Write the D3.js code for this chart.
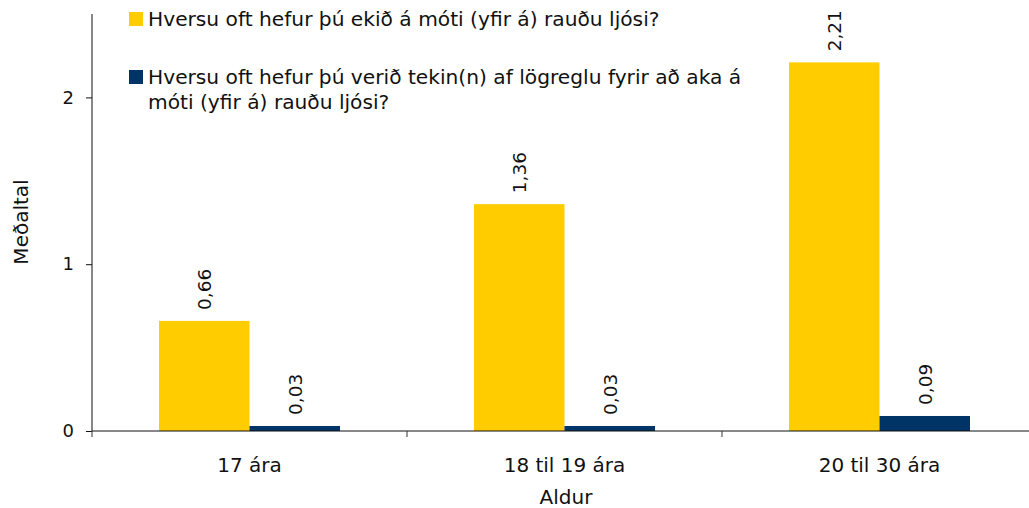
<!DOCTYPE html>
<html>
<head>
<meta charset="utf-8">
<script src="https://cdn.jsdelivr.net/npm/d3@7"></script>
<style>
  body { margin: 0; background: #fff; }
  svg { font-family: Verdana, "DejaVu Sans", sans-serif; }
</style>
</head>
<body>
<div id="viz"></div>
<script>
const categories = ['17 ára', '18 til 19 ára', '20 til 30 ára']
const seriesNames = [
    'Hversu oft hefur þú ekið á móti (yfir á) rauðu ljósi?',
    'Hversu oft hefur þú verið tekin(n) af lögreglu fyrir að aka á móti (yfir á) rauðu ljósi?'
]
const driven = [0.66, 1.36, 2.21]
const caught = [0.03, 0.03, 0.09]
const yTicks = [0, 1, 2]
const colors = ['#FFCC00', '#003366']

const width = 1029, height = 508
const margin = { top: 14, left: 92, bottom: 77 }
const plotRight = 1037
const innerHeight = height - margin.top - margin.bottom

const fmt = v => d3.format('.2f')(v).replace('.', ',')

const svg = d3.select('#viz').append('svg')
    .attr('width', width)
    .attr('height', height)

const x = d3.scaleBand()
    .domain(categories)
    .range([margin.left, plotRight])

const y = d3.scaleLinear()
    .domain([0, 2.5])
    .range([margin.top + innerHeight, margin.top])

const barW = 90.5
const data = []
categories.forEach((c, i) => {
    data.push({ cat: c, s: 0, v: driven[i] })
    data.push({ cat: c, s: 1, v: caught[i] })
})
const barX = d => x(d.cat) + x.bandwidth() / 2 + (d.s - 1) * barW

svg.append('g').selectAll('rect').data(data)
    .enter()
    .append('rect')
    .attr('x', barX)
    .attr('y', d => y(d.v))
    .attr('width', barW)
    .attr('height', d => y(0) - y(d.v))
    .style('fill', d => colors[d.s])

// value labels
svg.append('g').selectAll('text').data(data)
    .enter()
    .append('text')
    .attr('transform', d => `translate(${barX(d) + barW / 2 + 7}, ${y(d.v) - 11}) rotate(-90)`)
    .attr('font-size', 18.5)
    .attr('fill', '#111')
    .text(d => fmt(d.v))

// y axis
const yAxisG = svg.append('g')
    .attr('transform', `translate(${margin.left}, 0)`)
    .call(d3.axisLeft(y).tickValues(yTicks).tickSize(6).tickFormat(d => d))
yAxisG.select('.domain').attr('d', `M0,${y(2.5)}V${y(0)}`).attr('stroke', '#111')
yAxisG.selectAll('.tick line').attr('stroke', '#111')
yAxisG.selectAll('.tick text')
    .attr('font-size', 18)
    .attr('font-family', 'Verdana, "DejaVu Sans", sans-serif')
    .attr('fill', '#111')
    .attr('x', -18)

// x axis
const xAxisG = svg.append('g')
    .attr('transform', `translate(0, ${y(0)})`)
xAxisG.append('line')
    .attr('x1', margin.left).attr('x2', width)
    .attr('stroke', '#111')
xAxisG.selectAll('.sep').data(categories.map(c => x(c)).concat([plotRight]))
    .enter()
    .append('line')
    .attr('x1', d => d).attr('x2', d => d)
    .attr('y1', 0).attr('y2', 6)
    .attr('stroke', '#333')
xAxisG.selectAll('.cat').data(categories)
    .enter()
    .append('text')
    .attr('x', d => x(d) + x.bandwidth() / 2)
    .attr('y', 41)
    .attr('text-anchor', 'middle')
    .attr('font-size', 20)
    .attr('fill', '#111')
    .text(d => d)

// axis titles
svg.append('text')
    .attr('x', 566).attr('y', 504)
    .attr('text-anchor', 'middle')
    .attr('font-size', 20)
    .attr('fill', '#111')
    .text('Aldur')
svg.append('text')
    .attr('transform', `translate(28, ${222}) rotate(-90)`)
    .attr('text-anchor', 'middle')
    .attr('font-size', 20)
    .attr('fill', '#111')
    .text('Meðaltal')

// legend
const legendLines = [[seriesNames[0]], ['Hversu oft hefur þú verið tekin(n) af lögreglu fyrir að aka á', 'móti (yfir á) rauðu ljósi?']]
const legendY = [12, 70]
legendLines.forEach((lines, i) => {
    const lg = svg.append('g').attr('transform', `translate(129, ${legendY[i]})`)
    lg.append('rect')
        .attr('width', 14).attr('height', 14)
        .style('fill', colors[i])
    lg.selectAll('text').data(lines)
        .enter()
        .append('text')
        .attr('x', 19)
        .attr('y', (d, j) => 14 + j * 25)
        .attr('font-size', 20.2)
        .attr('fill', '#111')
        .text(d => d)
})
</script>
</body>
</html>
